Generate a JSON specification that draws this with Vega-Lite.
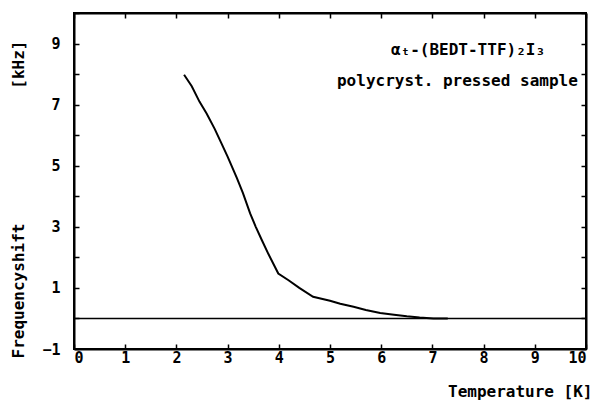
{
  "$schema": "https://vega.github.io/schema/vega-lite/v6.json",
  "width": 512,
  "height": 336,
  "autosize": "none",
  "padding": {"left": 74, "top": 13, "right": 12, "bottom": 52},
  "background": "white",
  "config": {
    "view": {"stroke": "black", "strokeWidth": 2},
    "axis": {
      "grid": false,
      "domainColor": "black",
      "domainWidth": 2,
      "tickColor": "black",
      "tickWidth": 1.5,
      "labelFont": "DejaVu Sans Mono",
      "labelFontWeight": "bold",
      "labelFontSize": 15,
      "labelColor": "black",
      "titleFont": "DejaVu Sans Mono",
      "titleFontWeight": "bold",
      "titleFontSize": 16,
      "titleColor": "black"
    }
  },
  "layer": [
    {
      "data": {"values": [
        {"T": 2.15, "F": 7.98}, {"T": 2.3, "F": 7.6}, {"T": 2.45, "F": 7.1},
        {"T": 2.59, "F": 6.71}, {"T": 2.75, "F": 6.2}, {"T": 2.88, "F": 5.73},
        {"T": 3.0, "F": 5.3}, {"T": 3.18, "F": 4.6}, {"T": 3.3, "F": 4.1},
        {"T": 3.44, "F": 3.44}, {"T": 3.55, "F": 3.0}, {"T": 3.67, "F": 2.56},
        {"T": 3.8, "F": 2.1}, {"T": 3.99, "F": 1.47}, {"T": 4.19, "F": 1.25},
        {"T": 4.4, "F": 1.0}, {"T": 4.67, "F": 0.71}, {"T": 5.0, "F": 0.58},
        {"T": 5.2, "F": 0.48}, {"T": 5.46, "F": 0.38}, {"T": 5.7, "F": 0.28},
        {"T": 5.98, "F": 0.18}, {"T": 6.25, "F": 0.12}, {"T": 6.5, "F": 0.07},
        {"T": 6.75, "F": 0.03}, {"T": 7.02, "F": 0.0}, {"T": 7.3, "F": 0.0}
      ]},
      "mark": {"type": "line", "color": "black", "strokeWidth": 2},
      "encoding": {
        "x": {
          "field": "T", "type": "quantitative",
          "scale": {"domain": [0, 10], "nice": false, "zero": false},
          "axis": {
            "orient": "bottom",
            "values": [0, 1, 2, 3, 4, 5, 6, 7, 8, 9, 10],
            "tickSize": -5,
            "labelPadding": 6,
            "title": "Temperature [K]",
            "titleAnchor": "end",
            "titleAlign": "right",
            "titleBaseline": "middle",
            "titleX": 518,
            "titleY": 42
          }
        },
        "y": {
          "field": "F", "type": "quantitative",
          "scale": {"domain": [-1, 10], "nice": false, "zero": false},
          "axis": {
            "orient": "left",
            "values": [-1, 0, 1, 2, 3, 4, 5, 6, 7, 8, 9, 10],
            "labelExpr": "datum.value % 2 != 0 ? datum.label : ''",
            "tickSize": -5,
            "labelPadding": 19,
            "title": "Frequencyshift\u00a0\u00a0\u00a0\u00a0\u00a0\u00a0\u00a0\u00a0\u00a0\u00a0\u00a0\u00a0\u00a0\u00a0[kHz]",
            "titleAngle": 270,
            "titleAlign": "center",
            "titleBaseline": "middle",
            "titleX": -56,
            "titleY": 186
          }
        }
      }
    },
    {
      "data": {"values": [{"T0": 0, "T1": 10, "F": 0}]},
      "mark": {"type": "rule", "color": "black", "strokeWidth": 1.5},
      "encoding": {
        "x": {
          "field": "T0", "type": "quantitative",
          "axis": {"orient": "top", "values": [0, 1, 2, 3, 4, 5, 6, 7, 8, 9, 10], "tickSize": -5, "labels": false, "title": null}
        },
        "x2": {"field": "T1"},
        "y": {
          "field": "F", "type": "quantitative",
          "axis": {"orient": "right", "values": [-1, 0, 1, 2, 3, 4, 5, 6, 7, 8, 9, 10], "tickSize": -5, "labels": false, "title": null}
        }
      }
    },
    {
      "data": {"values": [
        {"T": 9.2, "F": 8.78, "label": "αₜ-(BEDT-TTF)₂I₃"},
        {"T": 9.84, "F": 7.77, "label": "polycryst. pressed sample"}
      ]},
      "mark": {"type": "text", "align": "right", "baseline": "middle", "font": "DejaVu Sans Mono", "fontWeight": "bold", "fontSize": 16, "color": "black"},
      "encoding": {
        "x": {"field": "T", "type": "quantitative", "axis": null},
        "y": {"field": "F", "type": "quantitative", "axis": null},
        "text": {"field": "label"}
      }
    }
  ],
  "resolve": {"axis": {"x": "independent", "y": "independent"}}
}
